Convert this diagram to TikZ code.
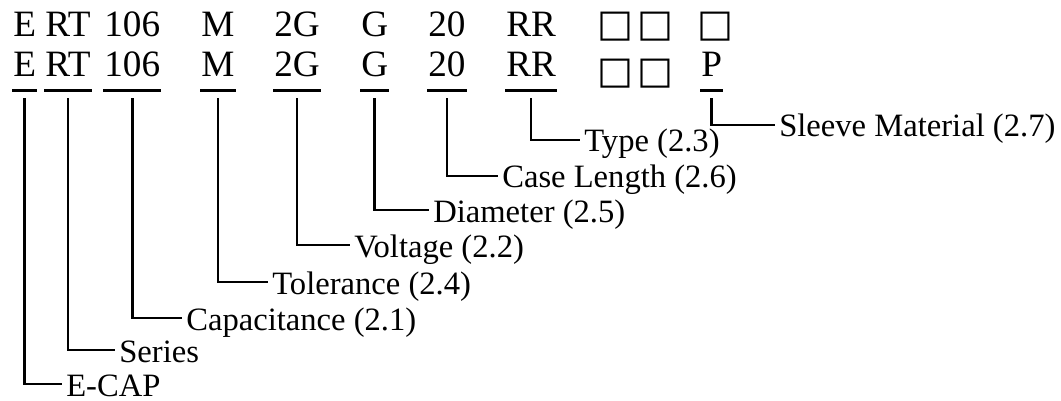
\documentclass[tikz,border=0pt]{standalone}
\usepackage{fontspec}
\setmainfont{Liberation Serif}
\newfontfamily\boxfont{DejaVu Sans}
\newcommand{\codefont}{\fontsize{18.6}{20}\selectfont}
\newcommand{\lblfont}{\fontsize{16.3}{18}\selectfont}

\begin{document}
\begin{tikzpicture}[x=0.5pt,y=-0.5pt,line width=1.3pt,
	code/.style={anchor=base west,inner xsep=0pt,inner ysep=0pt,font=\codefont},
	ucode/.style={code,text depth=6pt},
	blank/.style={anchor=base west,inner xsep=0pt,inner ysep=0pt,font=\boxfont\fontsize{19}{20}\selectfont},
	lbl/.style={anchor=west,inner xsep=1.5pt,inner ysep=0pt,text height=12pt,text depth=0pt,font=\lblfont}]
				\useasboundingbox (0,0) rectangle (1061,401);

				% template row
				\foreach \code/\x/\nm in {E/12/E, RT/44/RT, 106/103/C, M/200/M, 2G/273/V, G/360/D, 20/427/L, RR/505/T} {
					\node[code] (t\nm) at (\x,37) {\code};
				}
				\node[blank] (tX) at (596,37) {□\hspace{2pt}□};
				\node[blank] (tP) at (696,37) {□};

				% example row, underlined
				\foreach \code/\x/\nm in {E/12/E, RT/44/RT, 106/103/C, M/200/M, 2G/273/V, G/360/D, 20/427/L, RR/505/T, P/700/P} {
					\node[ucode] (c\nm) at (\x,77) {\code};
					\draw (c\nm.south west) -- (c\nm.south east);
				}
				\node[blank] (cX) at (596,84) {□\hspace{2pt}□};

				% explanations
				\foreach \nm/\x/\y/\text in {
					E/62/384/E-CAP,
					RT/115/350/Series,
					C/182/318/Capacitance (2.1),
					M/268/282/Tolerance (2.4),
					V/350/245/Voltage (2.2),
					D/429/210/Diameter (2.5),
					L/498/176/Case Length (2.6),
					T/580/140/Type (2.3),
					P/775/125/Sleeve Material (2.7)%
				}{
					\node[lbl] (l\nm) at (\x,\y) {\text};
					\draw ([yshift=-4pt]c\nm.south) |- (l\nm.west);
				}
			\end{tikzpicture}
\end{document}
